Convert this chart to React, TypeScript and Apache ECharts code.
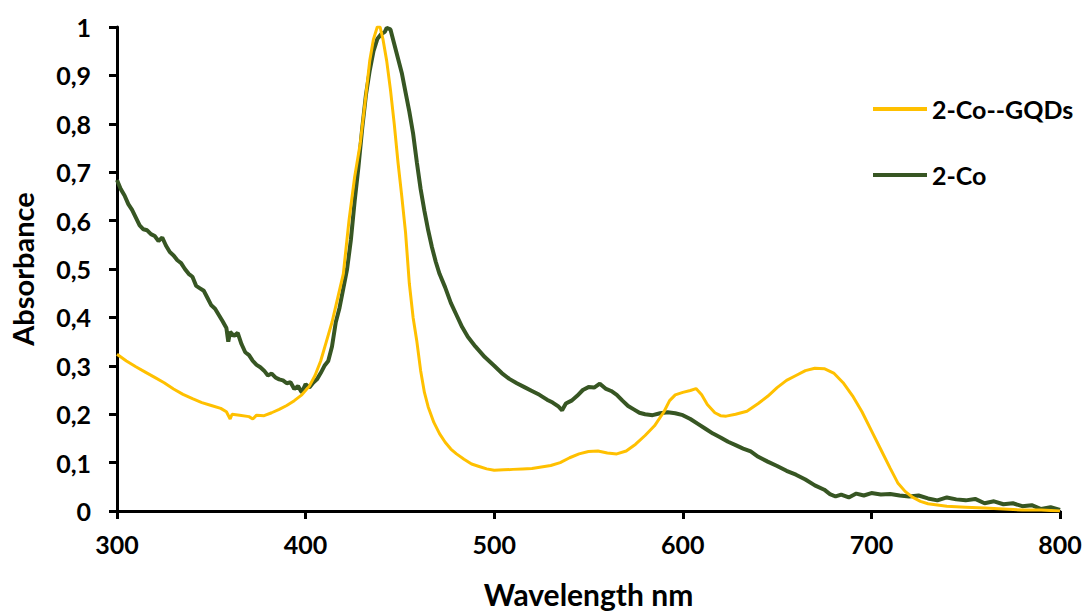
import React, { useEffect, useRef } from "react";
import * as echarts from "echarts";

const xTicks = [300, 400, 500, 600, 700, 800];
const seriesNames = ["2-Co--GQDs", "2-Co"];

const gqdsX = [300, 305, 310, 315, 320, 325, 330, 335, 340, 345, 350, 355, 358, 360, 361, 365, 370, 372, 374, 378, 382, 386, 390, 394, 398, 402, 405, 408, 411, 414, 417, 420, 423, 426, 429, 432, 434, 436, 438, 439.5, 441, 443, 445, 447, 449, 451, 453, 455, 457, 459, 461, 463, 465, 468, 471, 474, 477, 480, 484, 488, 492, 496, 500, 505, 510, 515, 520, 525, 530, 535, 540, 545, 550, 555, 560, 565, 570, 575, 580, 585, 590, 593, 596, 600, 604, 607, 610, 613, 617, 620, 623, 628, 634, 640, 645, 650, 655, 660, 665, 670, 675, 680, 685, 690, 695, 700, 705, 710, 714, 718, 722, 726, 730, 740, 750, 760, 770, 780, 790, 800];
const gqdsY = [0.324, 0.31, 0.298, 0.287, 0.276, 0.265, 0.252, 0.241, 0.232, 0.224, 0.218, 0.212, 0.205, 0.19, 0.2, 0.198, 0.195, 0.19, 0.198, 0.197, 0.203, 0.21, 0.218, 0.228, 0.24, 0.258, 0.28, 0.31, 0.35, 0.39, 0.44, 0.49, 0.6, 0.69, 0.76, 0.86, 0.93, 0.975, 1.0, 1.0, 0.975, 0.93, 0.87, 0.8, 0.72, 0.65, 0.575, 0.47, 0.4, 0.35, 0.29, 0.245, 0.215, 0.183, 0.16, 0.142, 0.128, 0.118, 0.107, 0.097, 0.092, 0.087, 0.084, 0.085, 0.086, 0.087, 0.088, 0.091, 0.094, 0.1, 0.11, 0.118, 0.123, 0.124, 0.12, 0.118, 0.124, 0.138, 0.156, 0.176, 0.205, 0.228, 0.24, 0.245, 0.249, 0.253, 0.24, 0.22, 0.203, 0.197, 0.196, 0.2, 0.206, 0.222, 0.237, 0.255, 0.27, 0.28, 0.29, 0.295, 0.294, 0.285, 0.265, 0.238, 0.205, 0.166, 0.127, 0.088, 0.058, 0.04, 0.028, 0.02, 0.015, 0.01, 0.008, 0.006, 0.004, 0.002, 0.002, 0];

const coX = [300, 302, 304, 306, 308, 310, 312, 314, 316, 318, 320, 322, 324, 326, 328, 330, 332, 334, 336, 338, 340, 342, 344, 346, 348, 350, 352, 354, 356, 358, 359, 360, 362, 364, 366, 368, 370, 372, 374, 376, 378, 380, 382, 384, 386, 388, 390, 392, 394, 396, 398, 400, 402, 404, 406, 408, 410, 412, 414, 416, 418, 420, 422, 424, 426, 428, 430, 432, 434, 436, 438, 440, 442, 443, 445, 447, 449, 451, 453, 455, 457, 459, 461, 463, 465, 467, 469, 471, 474, 477, 480, 483, 486, 490, 495, 500, 504, 508, 512, 516, 520, 524, 528, 531, 534, 536, 538, 541, 544, 547, 550, 553, 556, 559, 562, 565, 568, 571, 574, 577, 580, 584, 588, 592, 596, 600, 604, 608, 612, 616, 620, 624, 628, 632, 636, 640, 645, 650, 655, 660, 665, 670, 675, 678, 681, 684, 688, 692, 696, 700, 705, 710, 715, 720, 725, 730, 735, 740, 745, 750, 755, 760, 765, 770, 775, 780, 785, 790, 795, 800];
const coY = [0.684, 0.665, 0.652, 0.634, 0.622, 0.606, 0.59, 0.582, 0.58, 0.572, 0.568, 0.558, 0.565, 0.548, 0.535, 0.528, 0.518, 0.512, 0.5, 0.49, 0.484, 0.465, 0.46, 0.455, 0.44, 0.425, 0.418, 0.405, 0.392, 0.378, 0.35, 0.37, 0.362, 0.368, 0.345, 0.328, 0.322, 0.31, 0.302, 0.297, 0.29, 0.28, 0.284, 0.276, 0.272, 0.27, 0.264, 0.266, 0.252, 0.258, 0.245, 0.262, 0.255, 0.265, 0.272, 0.285, 0.3, 0.31, 0.34, 0.39, 0.42, 0.46, 0.5, 0.56, 0.64, 0.71, 0.79, 0.86, 0.91, 0.95, 0.975, 0.985, 0.99, 0.998, 0.995, 0.965, 0.935, 0.905, 0.865, 0.825, 0.78, 0.72, 0.665, 0.62, 0.58, 0.545, 0.515, 0.49, 0.462, 0.43, 0.405, 0.38, 0.36, 0.34, 0.318, 0.3, 0.285, 0.273, 0.264, 0.256, 0.248, 0.24, 0.23, 0.224, 0.216, 0.208, 0.222, 0.228, 0.238, 0.25, 0.256, 0.255, 0.263, 0.253, 0.248, 0.24, 0.228, 0.217, 0.21, 0.203, 0.2, 0.198, 0.202, 0.204, 0.202, 0.198, 0.19, 0.18, 0.17, 0.16, 0.152, 0.143, 0.136, 0.129, 0.123, 0.112, 0.102, 0.093, 0.083, 0.075, 0.065, 0.053, 0.044, 0.035, 0.03, 0.034, 0.028, 0.036, 0.032, 0.037, 0.034, 0.035, 0.032, 0.03, 0.032, 0.026, 0.022, 0.028, 0.024, 0.022, 0.025, 0.016, 0.02, 0.014, 0.016, 0.01, 0.012, 0.004, 0.008, 0.002];

const FONT = "Lato";

export default function App() {
  const ref = useRef<HTMLDivElement>(null);
  useEffect(() => {
    if (!ref.current) return;
    const chart = echarts.init(ref.current, undefined, { renderer: "svg" });
    const pairs = (xs: number[], ys: number[]) => xs.map((x, i) => [x, ys[i]]);
    chart.setOption({
      animation: false,
      backgroundColor: "#ffffff",
      grid: { left: 114, right: 26, top: 27, bottom: 98 },
      legend: {
        orient: "vertical",
        left: 868,
        top: 89,
        icon: "rect",
        itemWidth: 54,
        itemHeight: 4,
        itemGap: 36,
        data: seriesNames,
        textStyle: { fontFamily: FONT, fontWeight: "bold", fontSize: 25, color: "#000", lineHeight: 30 },
      },
      xAxis: {
        type: "value",
        min: xTicks[0],
        max: xTicks[xTicks.length - 1],
        interval: 100,
        name: "Wavelength nm",
        nameLocation: "middle",
        nameGap: 68,
        nameTextStyle: { fontFamily: FONT, fontWeight: "bold", fontSize: 30, color: "#000" },
        axisLine: { lineStyle: { color: "#000", width: 3 } },
        axisTick: { show: true, length: 8, lineStyle: { color: "#000", width: 3 } },
        axisLabel: { fontFamily: FONT, fontWeight: "bold", fontSize: 25, color: "#000", margin: 20 },
        splitLine: { show: false },
      },
      yAxis: {
        type: "value",
        min: 0,
        max: 1,
        interval: 0.1,
        name: "Absorbance",
        nameLocation: "middle",
        nameGap: 80,
        nameRotate: 90,
        nameTextStyle: { fontFamily: FONT, fontWeight: "bold", fontSize: 29, color: "#000" },
        axisLine: { show: true, lineStyle: { color: "#000", width: 3 } },
        axisTick: { show: true, length: 8, lineStyle: { color: "#000", width: 3 } },
        axisLabel: {
          fontFamily: FONT,
          fontWeight: "bold",
          fontSize: 25,
          color: "#000",
          margin: 26,
          formatter: (v: number) => {
            const r = Math.round(v * 10) / 10;
            if (r === 0) return "0";
            if (r === 1) return "1";
            return r.toFixed(1).replace(".", ",");
          },
        },
        splitLine: { show: false },
      },
      series: [
        {
          name: seriesNames[0],
          type: "line",
          data: pairs(gqdsX, gqdsY),
          symbol: "none",
          color: "#FFC000",
          lineStyle: { color: "#FFC000", width: 3 },
          z: 3,
        },
        {
          name: seriesNames[1],
          type: "line",
          data: pairs(coX, coY),
          symbol: "none",
          color: "#375623",
          lineStyle: { color: "#375623", width: 4 },
          z: 2,
        },
      ],
    });
    return () => chart.dispose();
  }, []);
  return (
    <div
      ref={ref}
      style={{ position: "fixed", left: 0, top: 0, width: 1086, height: 614 }}
    />
  );
}
